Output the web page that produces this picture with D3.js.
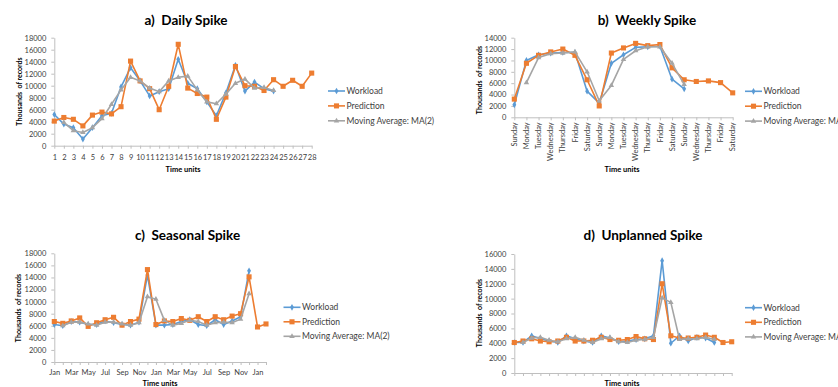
<!DOCTYPE html>
<html>
<head>
<meta charset="utf-8">
<script src="https://cdn.jsdelivr.net/npm/d3@7"></script>
<style>
  body { margin: 0; background: #fff; }
  svg { display: block; }
</style>
</head>
<body>
<svg id="chart" width="838" height="387"></svg>
<script>
// ---- a) Daily spike: 28 time units ----
const dailyLabels = ["1","2","3","4","5","6","7","8","9","10","11","12","13","14",
  "15","16","17","18","19","20","21","22","23","24","25","26","27","28"];
const dailyWorkload = [5200, 3600, 3000, 1100, 3000, 5000, 5400, 9800, 13000, 10800, 8300, 9000,
  9500, 14400, 10400, 9500, 7300, 5000, 8800, 13400, 9100, 10600, 9500, 9100];
const dailyPrediction = [4100, 4700, 4400, 3300, 5100, 5600, 5300, 6500, 14100, 10800, 9500, 6000,
  9900, 16900, 9600, 8700, 8100, 4400, 8100, 13200, 10000, 9900, 9200, 11000, 9900, 10900, 9900, 12100];
const dailyMA = [null, 3900, 2500, 2200, 3000, 4500, 6900, 9300, 11400, 10800, 9600, 9000,
  10800, 11400, 11600, 9300, 7300, 7000, 8600, 10400, 11100, 9600, 9700, 9200];

// ---- b) Weekly spike: 19 days ----
const weeklyLabels = ["Sunday","Monday","Tuesday","Wednesday","Thursday","Friday","Saturday",
  "Sunday","Monday","Tuesday","Wednesday","Thursday","Friday","Saturday","Sunday",
  "Wednesday","Thursday","Friday","Saturday"];
const weeklyWorkload = [2200, 10000, 11000, 11300, 11400, 11400, 4600, 2500, 9500, 11000,
  12300, 12400, 12500, 6700, 5000];
const weeklyPrediction = [3200, 9500, 10900, 11500, 12000, 10900, 6600, 2000, 11300, 12200,
  13000, 12600, 12800, 8700, 6600, 6300, 6400, 6100, 4300];
const weeklyMA = [null, 6100, 10500, 11200, 11300, 11500, 8000, 2900, 5600, 10200,
  11700, 12400, 12400, 9500, 5800];

// ---- c) Seasonal spike: 26 months ----
const seasonalLabels = ["Jan","Feb","Mar","Apr","May","Jun","Jul","Aug","Sep","Oct","Nov","Dec",
  "Jan","Feb","Mar","Apr","May","Jun","Jul","Aug","Sep","Oct","Nov","Dec","Jan","Feb"];
const seasonalWorkload = [6200, 6000, 6700, 6600, 6200, 6200, 6800, 6500, 6200, 6100, 6600, 14400,
  6100, 6100, 6200, 6700, 7000, 6200, 6000, 7000, 6200, 6800, 7500, 15100];
const seasonalPrediction = [6700, 6400, 6800, 7300, 5900, 6500, 7000, 7400, 6100, 6700, 7100, 15300,
  6200, 6800, 6700, 7200, 6900, 7500, 6700, 7500, 7000, 7600, 8000, 14100, 5800, 6300];
const seasonalMA = [null, 6000, 6600, 6600, 6300, 6100, 6600, 6600, 6300, 6100, 6500, 10800,
  10400, 6900, 6100, 6400, 6900, 6700, 6100, 6500, 6600, 6500, 7100, 11300];

// ---- d) Unplanned spike: 26 time units (unlabelled) ----
const unplannedLabels = ["","","","","","","","","","","","","","","","","","","","","","","","","",""];
const unplannedWorkload = [4100, 4100, 5000, 4600, 4300, 4100, 5000, 4600, 4300, 4100, 5000, 4700,
  4200, 4300, 4500, 4600, 5000, 15100, 4000, 5000, 4300, 4800, 4700, 4100];
const unplannedPrediction = [4100, 4300, 4600, 4300, 4200, 4300, 4800, 4300, 4300, 4400, 4800, 4500,
  4400, 4500, 4900, 4600, 4500, 12000, 5000, 4700, 4700, 4800, 5100, 4800, 4100, 4200];
const unplannedMA = [null, 4100, 4700, 4800, 4400, 4200, 4600, 4800, 4400, 4100, 4600, 4800,
  4200, 4100, 4400, 4500, 4800, 10100, 9500, 4500, 4600, 4600, 4800, 4500];

const seriesNames = ["Workload", "Prediction", "Moving Average: MA(2)"];

const COLORS = ["#5b9bd5", "#ed7d31", "#a5a5a5"];
const SYMBOLS = [d3.symbolDiamond, d3.symbolSquare, d3.symbolTriangle];
const SYMBOL_SIZES = [13, 26, 13];
const FONT = "Lato, 'Open Sans', sans-serif";
const AXIS_COLOR = "#bfbfbf";
const TEXT_COLOR = "#404040";

const svg = d3.select("#chart");

function drawPanel(cfg) {
  const g = svg.append("g");
  const n = cfg.labels.length;
  const x = d3.scalePoint().domain(d3.range(n)).range([cfg.x0, cfg.x1]).padding(0);
  const y = d3.scaleLinear().domain([0, cfg.yMax]).range([cfg.yBottom, cfg.yTop]);

  // Title
  g.append("text")
    .attr("x", cfg.titleX).attr("y", cfg.titleY)
    .attr("text-anchor", "middle").attr("dy", "0.35em")
    .style("white-space", "pre")
    .attr("font-family", FONT).attr("font-weight", "bold").attr("font-size", 13.5)
    .attr("fill", "#000")
    .text(cfg.title);

  // Value axis
  const yAxis = g.append("g")
    .attr("transform", `translate(${cfg.x0},0)`)
    .call(d3.axisLeft(y).tickValues(d3.range(0, cfg.yMax + 1, 2000))
      .tickFormat(d3.format("d"))
      .tickSize(3).tickSizeOuter(0).tickPadding(5));
  yAxis.selectAll("path, line").attr("stroke", AXIS_COLOR);
  yAxis.selectAll("text").attr("font-family", FONT).attr("font-size", 7.5).attr("fill", TEXT_COLOR);

  // Category axis
  const xAxis = g.append("g")
    .attr("transform", `translate(0,${cfg.yBottom})`)
    .call(d3.axisBottom(x).tickSize(3).tickSizeOuter(0).tickPadding(cfg.xPad)
      .tickFormat(i => cfg.rotate ? "" : (cfg.labelEvery && i % cfg.labelEvery ? "" : cfg.labels[i])));
  xAxis.selectAll("path, line").attr("stroke", AXIS_COLOR);
  xAxis.selectAll("text").attr("font-family", FONT).attr("font-size", 7.5).attr("fill", TEXT_COLOR);

  if (cfg.rotate) {
    g.selectAll("text.rot").data(cfg.labels).join("text")
      .attr("class", "rot")
      .attr("transform", (d, i) => `translate(${x(i)},${cfg.yBottom + 5}) rotate(-90)`)
      .attr("text-anchor", "end").attr("dy", "0.35em")
      .attr("font-family", FONT).attr("font-size", 7.5).attr("fill", TEXT_COLOR)
      .text(d => d);
  }

  // Axis titles
  g.append("text")
    .attr("transform", `translate(${cfg.yTitleX},${cfg.yTitleY}) rotate(-90)`)
    .attr("text-anchor", "middle").attr("dy", "0.35em")
    .style("white-space", "pre")
    .attr("font-family", FONT).attr("font-weight", "bold").attr("font-size", 7)
    .attr("fill", "#000")
    .text("Thousands  of records");
  g.append("text")
    .attr("x", cfg.xTitleX).attr("y", cfg.xTitleY)
    .attr("text-anchor", "middle").attr("dy", "0.35em")
    .attr("font-family", FONT).attr("font-weight", "bold").attr("font-size", 7.5)
    .attr("fill", "#000")
    .text("Time units");

  // Series: workload, prediction, moving average
  const line = d3.line()
    .defined(d => d.v != null)
    .x(d => x(d.i)).y(d => y(d.v));
  cfg.series.forEach((vals, s) => {
    const pts = vals.map((v, i) => ({ i, v }));
    g.append("path")
      .datum(pts)
      .attr("d", line)
      .attr("fill", "none")
      .attr("stroke", COLORS[s]).attr("stroke-width", 1.6)
      .attr("stroke-linejoin", "round");
    g.selectAll(null).data(pts.filter(d => d.v != null)).join("path")
      .attr("transform", d => `translate(${x(d.i)},${y(d.v)})`)
      .attr("d", d3.symbol(SYMBOLS[s], SYMBOL_SIZES[s]))
      .attr("fill", COLORS[s]);
  });

  // Legend
  seriesNames.forEach((name, s) => {
    const ly = cfg.legendY + s * cfg.legendStep;
    g.append("line")
      .attr("x1", cfg.legendX).attr("x2", cfg.legendX + 17)
      .attr("y1", ly).attr("y2", ly)
      .attr("stroke", COLORS[s]).attr("stroke-width", 1.6);
    g.append("path")
      .attr("transform", `translate(${cfg.legendX + 8.5},${ly})`)
      .attr("d", d3.symbol(SYMBOLS[s], SYMBOL_SIZES[s]))
      .attr("fill", COLORS[s]);
    g.append("text")
      .attr("x", cfg.legendX + 18.5).attr("y", ly).attr("dy", "0.35em")
      .attr("font-family", FONT).attr("font-size", 8.5).attr("fill", TEXT_COLOR)
      .text(name);
  });
}

drawPanel({
  title: "a)  Daily Spike", titleX: 186, titleY: 20,
  labels: dailyLabels, series: [dailyWorkload, dailyPrediction, dailyMA],
  x0: 54.3, x1: 311.7, yTop: 37.7, yBottom: 145.7, yMax: 18000, xPad: 6,
  yTitleX: 20, yTitleY: 91.5, xTitleX: 183, xTitleY: 169,
  legendX: 328, legendY: 91, legendStep: 14.9
});

drawPanel({
  title: "b)  Weekly Spike", titleX: 647, titleY: 20,
  labels: weeklyLabels, series: [weeklyWorkload, weeklyPrediction, weeklyMA], rotate: true,
  x0: 514.3, x1: 732.7, yTop: 37.7, yBottom: 117.3, yMax: 14000, xPad: 5,
  yTitleX: 480, yTitleY: 80, xTitleX: 622, xTitleY: 169.5,
  legendX: 745, legendY: 91.3, legendStep: 14.9
});

drawPanel({
  title: "c)  Seasonal Spike", titleX: 187.5, titleY: 235,
  labels: seasonalLabels, series: [seasonalWorkload, seasonalPrediction, seasonalMA], labelEvery: 2,
  x0: 54.3, x1: 266, yTop: 253.3, yBottom: 362, yMax: 18000, xPad: 5,
  yTitleX: 19, yTitleY: 308, xTitleX: 160, xTitleY: 383.5,
  legendX: 283.5, legendY: 307.3, legendStep: 14.5
});

drawPanel({
  title: "d)  Unplanned Spike", titleX: 643, titleY: 235.7,
  labels: unplannedLabels, series: [unplannedWorkload, unplannedPrediction, unplannedMA],
  x0: 514.3, x1: 731.7, yTop: 254, yBottom: 373, yMax: 16000, xPad: 5,
  yTitleX: 480, yTitleY: 313, xTitleX: 622, xTitleY: 383.5,
  legendX: 745, legendY: 307.7, legendStep: 14.6
});
</script>
</body>
</html>
